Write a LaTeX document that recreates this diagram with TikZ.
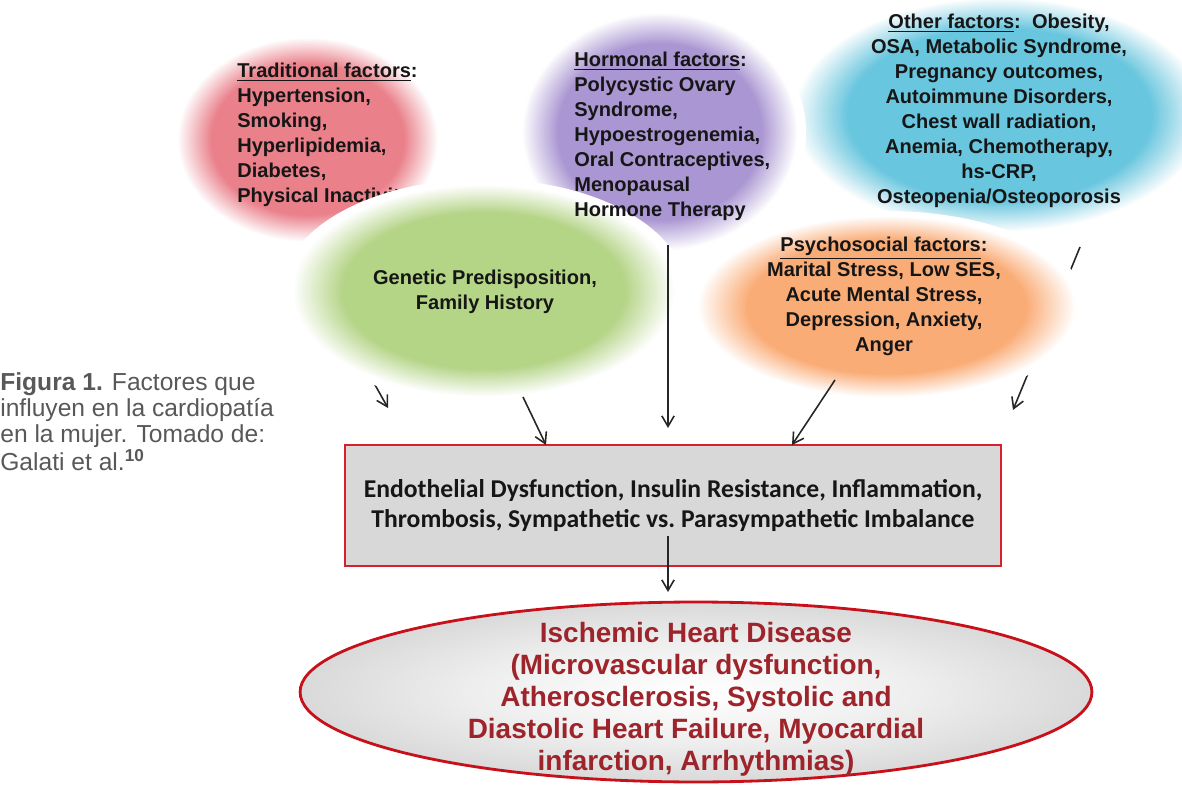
\documentclass[tikz,border=0pt]{standalone}
\usepackage{fontspec}
\setmainfont{Liberation Sans}
\newfontfamily\boxfont{Carlito}
\usetikzlibrary{shapes.geometric,arrows.meta}
\definecolor{blobred}{RGB}{234,128,138}
\definecolor{blobpurple}{RGB}{170,150,210}
\definecolor{blobblue}{RGB}{104,198,222}
\definecolor{blobgreen}{RGB}{180,212,134}
\definecolor{bloborange}{RGB}{250,172,118}
\definecolor{boxred}{RGB}{214,32,42}
\definecolor{boxgray}{RGB}{216,216,216}
\definecolor{ihdred}{RGB}{158,36,44}
\definecolor{ihdborder}{RGB}{200,16,26}
\definecolor{ihdmid}{RGB}{238,238,238}
\definecolor{ihdedge}{RGB}{170,170,170}
\definecolor{capgray}{RGB}{88,88,88}
\definecolor{txt}{RGB}{22,22,22}
\pgfdeclareradialshading{shihd}{\pgfpointorigin}{color(0bp)=(white); color(14bp)=(ihdmid); color(50bp)=(ihdedge); color(80bp)=(ihdedge)}
% soft-edged blob: colour, centre x, centre y, radius x, radius y
\newcommand\softblob[5]{%
  \fill[white] (#2,#3) ellipse [x radius=#4, y radius=#5];
  \foreach \k in {0,...,24}{%
    \pgfmathsetmacro\blobf{0.95-0.25*\k/24}%
    \pgfmathtruncatemacro\blobp{round(100*\k/24)}%
    \fill[#1!\blobp!white] (#2,#3) ellipse [x radius=\blobf*#4, y radius=\blobf*#5];
  }%
}
\tikzset{
  blobtext/.style={inner sep=0pt, text=txt, font=\fontsize{11.4}{14.2}\selectfont\bfseries},
  arr/.style={-{Straight Barb[length=6pt,width=7pt]}, line width=0.9pt, draw=black!85},
}
\begin{document}
\begin{tikzpicture}[x=0.02cm,y=-0.02cm]
\useasboundingbox (0,0) rectangle (1182,786);
% back blobs
\softblob{blobred}{308}{140}{138}{108}
\softblob{blobblue}{1000}{115}{218}{124}
\softblob{blobpurple}{660}{132}{146}{126}
\node[blobtext, anchor=north west, align=left] (tradtxt) at (237,63)
  {\underline{Traditional factors}:\\Hypertension,\\Smoking,\\Hyperlipidemia,\\Diabetes,\\Physical Inactivity,};
% connectors partly hidden by front blobs
\coordinate (ra) at (298,248);
\coordinate (rb) at (388,408);
\coordinate (oa) at (1080,247);
\coordinate (ob) at (1013,410);
\draw[arr] (ra) -- (rb);
\draw[arr] (oa) -- (ob);
% front blobs
\softblob{blobgreen}{484}{291}{202}{112}
\softblob{bloborange}{887}{307}{200}{96}
% texts
\node[blobtext, anchor=north west, align=left] (hormtxt) at (574,52)
  {\underline{Hormonal factors}:\\Polycystic Ovary\\Syndrome,\\Hypoestrogenemia,\\Oral Contraceptives,\\Menopausal\\Hormone Therapy};
\node[blobtext, anchor=north, align=center] (othertxt) at (999,14)
  {\underline{Other factors}:\ \ Obesity,\\OSA, Metabolic Syndrome,\\Pregnancy outcomes,\\Autoimmune Disorders,\\Chest wall radiation,\\Anemia, Chemotherapy,\\hs-CRP,\\Osteopenia/Osteoporosis};
\node[blobtext, anchor=north, align=center] (gentxt) at (485,270)
  {Genetic Predisposition,\\Family History};
\node[blobtext, anchor=north, align=center] (psytxt) at (884,237)
  {\underline{Psychosocial factors}:\\Marital Stress, Low SES,\\Acute Mental Stress,\\Depression, Anxiety,\\Anger};
% central box
\node[rectangle, draw=boxred, line width=1.3pt, fill=boxgray, minimum width=13.12cm, minimum height=2.42cm,
      align=center, text=txt, font=\boxfont\fontsize{14.6}{17.6}\selectfont\bfseries] (mech) at (673,505.5)
  {Endothelial Dysfunction, Insulin Resistance, Inflammation,\\Thrombosis, Sympathetic vs.\ Parasympathetic Imbalance};
\coordinate (ga) at (523,397);
\coordinate (gb) at (546,445);
\coordinate (ha) at (668,245);
\coordinate (hb) at (668,428);
\coordinate (pa) at (835,380);
\coordinate (pb) at (792,445);
\draw[arr] (ga) -- (gb);
\draw[arr] (ha) -- (hb);
\draw[arr] (pa) -- (pb);
% outcome ellipse
\node[ellipse, shading=shihd, draw=ihdborder, line width=1.6pt, minimum width=15.84cm, minimum height=3.6cm, inner sep=0pt] (ihd) at (696,692) {};
\node[inner sep=0pt, align=center, text=ihdred, font=\fontsize{15.9}{18.2}\selectfont\bfseries] (ihdtxt) at (696,699)
  {Ischemic Heart Disease\\(Microvascular dysfunction,\\Atherosclerosis, Systolic and\\Diastolic Heart Failure, Myocardial\\infarction, Arrhythmias)};
\coordinate (ma) at (668,536);
\coordinate (mb) at (668,592);
\draw[arr] (ma) -- (mb);
% caption
\node[inner sep=0pt, anchor=north west, align=left, text=capgray, font=\fontsize{14.0}{14.8}\selectfont] (caption) at (0,372)
  {\textbf{Figura 1.} Factores que\\influyen en la cardiopatía\\en la mujer. Tomado de:\\Galati et al.\textsuperscript{\textbf{10}}};
\end{tikzpicture}
\end{document}
